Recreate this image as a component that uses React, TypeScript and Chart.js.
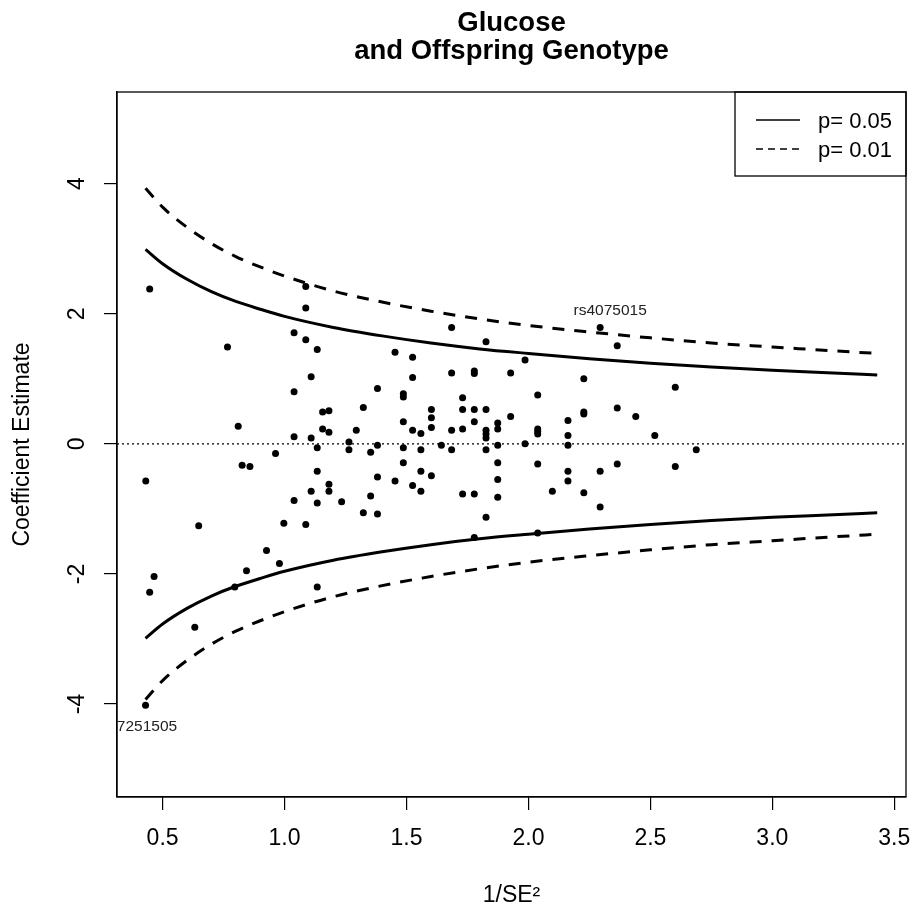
import React, { useEffect, useRef } from "react";
import { Chart, registerables } from "chart.js";
Chart.register(...registerables);

const FONT = '"Liberation Sans", Arial, Helvetica, sans-serif';

// Scatter points: 1/SE^2 (x) and coefficient estimate (y)
const pointX = [
  0.447, 1.087, 1.087, 1.685, 2.294,
  1.039, 1.087, 1.134, 0.766, 1.453, 1.109, 1.039, 1.381, 1.487, 1.487,
  1.156, 1.182, 1.323, 1.487, 0.810, 1.156, 1.182, 1.294, 1.039, 1.109,
  1.134, 1.264, 1.264, 1.381, 1.353, 1.487, 0.963, 0.826, 0.858, 1.487,
  1.134, 1.381, 1.453, 0.431, 1.182, 1.182, 1.109, 1.039, 1.134, 1.234,
  1.353, 1.323, 1.381, 0.648, 0.997, 1.087, 0.926, 0.979, 0.844,
  1.826, 2.364, 1.525, 1.986, 1.525, 1.685, 1.778, 1.778, 1.927, 2.227,
  2.602, 2.038, 1.730, 1.602, 1.730, 1.778, 1.826, 2.227, 2.227, 2.364,
  2.440, 1.602, 1.927, 1.778, 2.162, 1.874, 1.602, 1.730, 1.685, 1.525,
  1.559, 1.826, 1.874, 1.826, 1.826, 2.038, 2.038, 2.038, 2.162, 2.518,
  1.559, 1.643, 1.685, 1.826, 1.874, 1.986, 2.162, 2.688, 1.874, 2.038,
  2.364, 2.602, 1.559, 1.602, 2.162, 2.294, 1.874, 2.162, 1.525, 1.559,
  1.730, 1.778, 1.874, 2.098, 2.227, 1.826, 2.294, 1.778, 2.038,
  0.465, 0.447, 0.796, 1.134, 0.632, 0.430,
];
const pointY = [
  2.38, 2.42, 2.09, 1.79, 1.79,
  1.71, 1.60, 1.45, 1.49, 1.41, 1.03, 0.80, 0.85, 0.77, 0.72,
  0.49, 0.51, 0.56, 0.34, 0.27, 0.23, 0.18, 0.21, 0.11, 0.09,
  -0.06, 0.03, -0.09, -0.02, -0.13, -0.06, -0.15, -0.33, -0.35, -0.29,
  -0.42, -0.51, -0.57, -0.57, -0.62, -0.73, -0.73, -0.87, -0.91, -0.89,
  -0.80, -1.06, -1.08, -1.26, -1.22, -1.24, -1.64, -1.84, -1.95,
  1.57, 1.51, 1.33, 1.29, 1.02, 1.09, 1.12, 1.08, 1.09, 1.00,
  0.87, 0.75, 0.71, 0.53, 0.53, 0.53, 0.53, 0.49, 0.46, 0.55,
  0.42, 0.40, 0.42, 0.34, 0.36, 0.32, 0.25, 0.23, 0.21, 0.21,
  0.16, 0.21, 0.23, 0.15, 0.09, 0.23, 0.19, 0.15, 0.13, 0.13,
  -0.09, -0.02, -0.09, -0.09, -0.02, 0.00, -0.02, -0.09, -0.29, -0.31,
  -0.31, -0.35, -0.42, -0.49, -0.42, -0.42, -0.55, -0.57, -0.64, -0.73,
  -0.77, -0.77, -0.82, -0.73, -0.75, -1.13, -0.97, -1.44, -1.37,
  -2.04, -2.28, -2.20, -2.20, -2.82, -4.02,
];

// Significance funnel curves read along x
const curveX = [0.43, 0.5, 0.6, 0.7, 0.8, 0.9, 1.0, 1.2, 1.4, 1.6, 1.8, 2.0, 2.25, 2.5, 2.75, 3.0, 3.25, 3.43];
const upper05 = [2.99, 2.77, 2.53, 2.34, 2.19, 2.07, 1.96, 1.79, 1.66, 1.55, 1.46, 1.39, 1.31, 1.24, 1.18, 1.13, 1.09, 1.06];
const lower05 = [-2.99, -2.77, -2.53, -2.34, -2.19, -2.07, -1.96, -1.79, -1.66, -1.55, -1.46, -1.39, -1.31, -1.24, -1.18, -1.13, -1.09, -1.06];
const upper01 = [3.93, 3.64, 3.33, 3.08, 2.88, 2.72, 2.58, 2.35, 2.18, 2.04, 1.92, 1.82, 1.72, 1.63, 1.55, 1.49, 1.43, 1.39];
const lower01 = [-3.93, -3.64, -3.33, -3.08, -2.88, -2.72, -2.58, -2.35, -2.18, -2.04, -1.92, -1.82, -1.72, -1.63, -1.55, -1.49, -1.43, -1.39];

const xTicks = [0.5, 1.0, 1.5, 2.0, 2.5, 3.0, 3.5];
const yTicks = [-4, -2, 0, 2, 4];

const titleLines = ["Glucose", "and Offspring Genotype"];
const legendLabels = ["p= 0.05", "p= 0.01"];
const snpNames = ["rs4075015", "rs7251505"];
const snpX = [2.294, 0.43];
const snpY = [1.79, -4.02];
const snpAbove = [true, false];

const toXY = (xs: number[], ys: number[]) => xs.map((x, i) => ({ x, y: ys[i] }));

export default function App() {
  const ref = useRef<HTMLCanvasElement | null>(null);

  useEffect(() => {
    if (!ref.current) return;

    const labelDx = [10, -5];

    const decor = {
      id: "decor",
      beforeDatasetsDraw(chart: any) {
        const { ctx, chartArea: a, scales } = chart;
        const y0 = scales.y.getPixelForValue(0);
        ctx.save();
        ctx.strokeStyle = "#000";
        ctx.lineWidth = 1.2;
        ctx.setLineDash([2, 3]);
        ctx.beginPath();
        ctx.moveTo(a.left, y0);
        ctx.lineTo(a.right, y0);
        ctx.stroke();
        ctx.restore();
      },
      afterDraw(chart: any) {
        const { ctx, chartArea: a, scales } = chart;
        ctx.save();
        // frame
        ctx.strokeStyle = "#000";
        ctx.lineWidth = 1.3;
        ctx.setLineDash([]);
        ctx.strokeRect(a.left, a.top, a.right - a.left, a.bottom - a.top);

        // title
        ctx.fillStyle = "#000";
        ctx.font = `bold 27.5px ${FONT}`;
        ctx.textAlign = "center";
        ctx.textBaseline = "alphabetic";
        const cx = (a.left + a.right) / 2;
        ctx.fillText(titleLines[0], cx, 31);
        ctx.fillText(titleLines[1], cx, 59);

        // legend
        const lx0 = 735;
        const ly0 = a.top;
        ctx.lineWidth = 1.3;
        ctx.strokeRect(lx0, ly0, a.right - lx0, 176 - ly0);
        ctx.font = `22px ${FONT}`;
        ctx.textAlign = "left";
        ctx.textBaseline = "middle";
        const rows = [120, 149];
        for (let i = 0; i < 2; i++) {
          ctx.beginPath();
          ctx.lineWidth = 1.4;
          ctx.setLineDash(i === 0 ? [] : [7, 5]);
          ctx.moveTo(756, rows[i]);
          ctx.lineTo(800, rows[i]);
          ctx.stroke();
          ctx.setLineDash([]);
          ctx.fillText(legendLabels[i], 818, rows[i] + 2);
        }

        // SNP labels (clipped to plot region)
        ctx.beginPath();
        ctx.rect(a.left, a.top, a.right - a.left, a.bottom - a.top);
        ctx.clip();
        ctx.font = `15.5px ${FONT}`;
        ctx.fillStyle = "#222";
        ctx.textAlign = "center";
        ctx.textBaseline = "middle";
        for (let i = 0; i < snpNames.length; i++) {
          const px = scales.x.getPixelForValue(snpX[i]);
          const py = scales.y.getPixelForValue(snpY[i]);
          ctx.fillText(snpNames[i], px + labelDx[i], snpAbove[i] ? py - 17 : py + 21);
        }
        ctx.restore();
      },
    };

    const lineDs = (data: number[], dashed: boolean) => ({
      data: toXY(curveX, data),
      showLine: true,
      pointRadius: 0,
      borderColor: "#000",
      borderWidth: 3,
      borderDash: dashed ? [12, 10] : [],
      cubicInterpolationMode: "monotone",
      fill: false,
    });

    const chart = new Chart(ref.current, {
      type: "scatter",
      data: {
        datasets: [
          {
            data: toXY(pointX, pointY),
            pointRadius: 3.5,
            pointBackgroundColor: "#000",
            pointBorderColor: "#000",
            pointBorderWidth: 0,
            showLine: false,
          } as any,
          lineDs(upper05, false) as any,
          lineDs(lower05, false) as any,
          lineDs(upper01, true) as any,
          lineDs(lower01, true) as any,
        ],
      },
      options: {
        responsive: false,
        animation: false,
        layout: { padding: { top: 92, right: 9, bottom: 0, left: 0 } },
        plugins: {
          legend: { display: false },
          tooltip: { enabled: false },
          title: { display: false },
        },
        scales: {
          x: {
            type: "linear",
            min: 0.313,
            max: 3.548,
            afterBuildTicks: (s: any) => {
              s.ticks = xTicks.map((v) => ({ value: v }));
            },
            afterFit: (s: any) => {
              s.height = 112;
              s.paddingLeft = 0;
              s.paddingRight = 0;
            },
            grid: {
              drawOnChartArea: false,
              drawTicks: true,
              tickLength: 13,
              color: "#000",
              lineWidth: 1.2,
            },
            border: { display: true, color: "#000", width: 1.3 },
            ticks: {
              color: "#000",
              font: { family: FONT, size: 23 },
              padding: 15,
              maxRotation: 0,
              autoSkip: false,
              callback: (v: any) => Number(v).toFixed(1),
            },
            title: {
              display: true,
              text: "1/SE²",
              color: "#000",
              font: { family: FONT, size: 23 },
              padding: { top: 0, bottom: 0 },
            },
          },
          y: {
            type: "linear",
            min: -5.43,
            max: 5.41,
            afterBuildTicks: (s: any) => {
              s.ticks = yTicks.map((v) => ({ value: v }));
            },
            afterFit: (s: any) => {
              s.width = 117;
              s.paddingTop = 0;
              s.paddingBottom = 0;
            },
            grid: {
              drawOnChartArea: false,
              drawTicks: true,
              tickLength: 13,
              color: "#000",
              lineWidth: 1.2,
            },
            border: { display: true, color: "#000", width: 1.3 },
            ticks: {
              color: "#000",
              font: { family: FONT, size: 23 },
              padding: 16,
              minRotation: 90,
              maxRotation: 90,
              crossAlign: "center",
              autoSkip: false,
              callback: (v: any) => String(v),
            },
            title: {
              display: true,
              text: "Coefficient Estimate",
              color: "#000",
              font: { family: FONT, size: 23 },
              padding: { top: 9, bottom: 0 },
            },
          },
        },
      } as any,
      plugins: [decor],
    });

    return () => chart.destroy();
  }, []);

  return (
    <div style={{ position: "absolute", left: 0, top: 0, width: 915, height: 909, background: "#fff" }}>
      <canvas ref={ref} width={915} height={909} style={{ display: "block" }} />
    </div>
  );
}
